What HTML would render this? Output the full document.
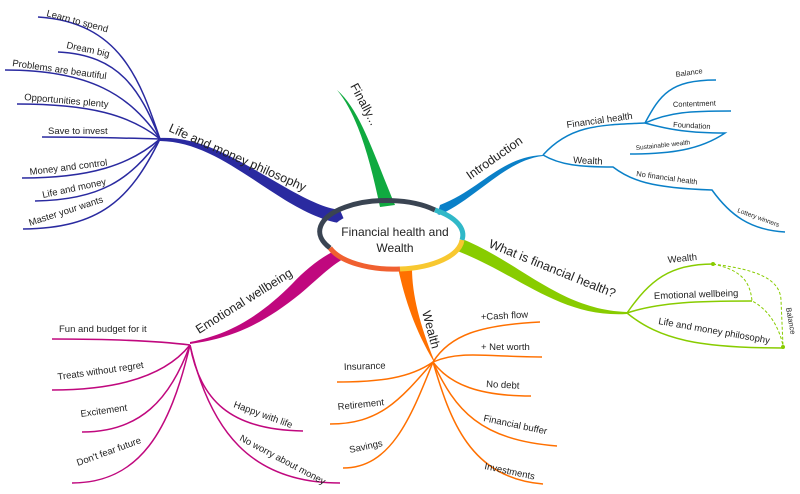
<!DOCTYPE html>
<html><head><meta charset="utf-8"><style>
html,body{margin:0;padding:0;background:#fff;}
svg{display:block;font-family:"Liberation Sans",sans-serif;}
text{fill:#222;}
</style></head><body>
<svg width="800" height="494" viewBox="0 0 800 494">
<!-- main branches -->
<path d="M160,138 C205,136 245,165 290,190 C310,201 325,208 340,210 L346,224 C325,222 305,212 285,200 C240,172 205,142 160,141 Z" fill="#2a2aa0"/>
<path d="M337,90 C360,110 372,150 395,205 L380,207 C370,160 358,115 337,90 Z" fill="#10aa40"/>
<path d="M543,155 C500,157 480,190 440,205 L437,216 C475,200 505,160 543,156 Z" fill="#0a80c8"/>
<path d="M455,250 C520,275 560,318 627,314 L627,312 C560,310 520,262 460,238 Z" fill="#88cc00"/>
<path d="M398,268 C405,300 415,330 434,362 L434,360 C420,325 412,295 412,268 Z" fill="#ff7000"/>
<path d="M190,344 C235,338 265,322 300,294 C318,279 330,266 345,258 L336,250 C320,258 305,270 292,284 C262,314 232,334 190,342 Z" fill="#c0087e"/>

<!-- center ellipse -->
<ellipse cx="395" cy="238" rx="67" ry="31" fill="#fff"/>
<path d="M330,248 A67,31 0 0 1 435,210" fill="none" stroke="#3a4452" stroke-width="5"/>
<path d="M435,210 A67,31 0 0 1 462,240" fill="none" stroke="#30b8c8" stroke-width="5"/>
<path d="M462,240 A67,31 0 0 1 400,269" fill="none" stroke="#f8c830" stroke-width="5"/>
<path d="M400,269 A67,31 0 0 1 330,248" fill="none" stroke="#f06030" stroke-width="5"/>
<text x="395" y="236" font-size="12" text-anchor="middle">Financial health and</text>
<text x="395" y="252" font-size="12" text-anchor="middle">Wealth</text>

<!-- Life and money philosophy leaves -->
<g fill="none" stroke="#2a2aa0" stroke-width="1.5">
<path d="M160,139 C140,80 120,22 38,17"/>
<path d="M160,139 C140,90 120,55 58,52"/>
<path d="M160,139 C130,95 90,70 5,70"/>
<path d="M160,139 C130,115 90,104 17,104"/>
<path d="M160,139 C120,138 90,137 42,137"/>
<path d="M160,139 C130,165 90,178 22,178"/>
<path d="M160,139 C130,180 100,200 35,201"/>
<path d="M160,139 C130,200 100,228 23,229"/>
</g>
<g font-size="9.5">
<text transform="translate(46,16) rotate(15)">Learn to spend</text>
<text transform="translate(66,48) rotate(12)">Dream big</text>
<text transform="translate(12,66) rotate(8)">Problems are beautiful</text>
<text transform="translate(24,100) rotate(5)">Opportunities plenty</text>
<text transform="translate(48,134)">Save to invest</text>
<text transform="translate(30,175) rotate(-7)">Money and control</text>
<text transform="translate(43,198) rotate(-12)">Life and money</text>
<text transform="translate(30,226) rotate(-18)">Master your wants</text>
</g>
<text transform="translate(168,131) rotate(24)" font-size="12.5">Life and money philosophy</text>
<text transform="translate(350,86) rotate(62)" font-size="12.5">Finally...</text>

<!-- Introduction -->
<g fill="none" stroke="#0a80c8" stroke-width="1.5">
<path d="M543,155 C570,125 600,125 645,123"/>
<path d="M645,123 C660,95 670,80 716,80"/>
<path d="M645,123 C670,112 690,111 731,111"/>
<path d="M645,123 C670,130 690,133 725,133 C700,150 670,154 630,154"/>
<path d="M543,155 C560,165 580,167 613,167 C630,180 650,188 712,190 C730,215 750,230 785,232"/>
</g>
<text transform="translate(470,180) rotate(-35)" font-size="12.5">Introduction</text>
<text transform="translate(567,128) rotate(-8)" font-size="9.5">Financial health</text>
<text transform="translate(676,77) rotate(-8)" font-size="7.5">Balance</text>
<text transform="translate(673,107) rotate(-2)" font-size="7.5">Contentment</text>
<text transform="translate(673,127) rotate(3)" font-size="7.5">Foundation</text>
<text transform="translate(636,150) rotate(-6)" font-size="6.5">Sustainable wealth</text>
<text transform="translate(573,163) rotate(3)" font-size="9.5">Wealth</text>
<text transform="translate(636,176) rotate(8)" font-size="7.5">No financial health</text>
<text transform="translate(737,212) rotate(20)" font-size="6.5">Lottery winners</text>

<!-- What is financial health -->
<g fill="none" stroke="#88cc00" stroke-width="1.5">
<path d="M627,313 C650,280 670,264 713,264"/>
<path d="M627,313 C660,302 700,301 752,301"/>
<path d="M627,313 C660,340 700,348 783,348"/>
</g>
<g fill="none" stroke="#88cc00" stroke-width="1" stroke-dasharray="3,2">
<path d="M713,264 C760,270 780,280 781,300 L783,346"/>
<path d="M713,264 C740,270 750,280 752,301 C770,310 780,330 783,346"/>
</g>
<circle cx="713" cy="264" r="2" fill="#88cc00"/>
<circle cx="783" cy="347" r="2" fill="#88cc00"/>
<text transform="translate(488,247) rotate(22)" font-size="12.5">What is financial health?</text>
<text transform="translate(668,263) rotate(-6)" font-size="9.5">Wealth</text>
<text transform="translate(654,299) rotate(-2)" font-size="9.5">Emotional wellbeing</text>
<text transform="translate(658,324) rotate(10)" font-size="9.5">Life and money philosophy</text>
<text transform="translate(786,308) rotate(80)" font-size="7.5">Balance</text>

<!-- Wealth -->
<g fill="none" stroke="#ff7000" stroke-width="1.5">
<path d="M433,362 C450,335 480,325 540,322"/>
<path d="M433,362 C460,350 490,357 542,357"/>
<path d="M433,362 C450,385 480,396 531,396"/>
<path d="M433,362 C455,410 480,440 557,446"/>
<path d="M433,362 C450,420 470,478 543,484"/>
<path d="M433,362 C410,378 380,382 337,382"/>
<path d="M433,362 C400,400 380,424 330,424"/>
<path d="M433,362 C410,420 390,468 343,468"/>
</g>
<text transform="translate(422,312) rotate(75)" font-size="12.5">Wealth</text>
<g font-size="9.5">
<text transform="translate(481,320) rotate(-3)">+Cash flow</text>
<text transform="translate(481,350)">+ Net worth</text>
<text transform="translate(486,387) rotate(3)">No debt</text>
<text transform="translate(483,421) rotate(12)">Financial buffer</text>
<text transform="translate(484,469) rotate(12)">Investments</text>
<text transform="translate(344,370) rotate(-2)">Insurance</text>
<text transform="translate(338,410) rotate(-6)">Retirement</text>
<text transform="translate(350,453) rotate(-12)">Savings</text>
</g>

<!-- Emotional wellbeing -->
<g fill="none" stroke="#c0087e" stroke-width="1.5">
<path d="M190,345 C150,340 100,339 52,339"/>
<path d="M190,345 C170,370 130,390 52,390"/>
<path d="M190,345 C170,400 140,432 82,432"/>
<path d="M190,345 C170,430 140,483 72,483"/>
<path d="M190,345 C200,400 230,430 303,431"/>
<path d="M190,345 C210,430 250,483 340,483"/>
</g>
<text transform="translate(199,334) rotate(-32)" font-size="12.5">Emotional wellbeing</text>
<g font-size="9.5">
<text transform="translate(59,332)">Fun and budget for it</text>
<text transform="translate(58,380) rotate(-8)">Treats without regret</text>
<text transform="translate(81,417) rotate(-8)">Excitement</text>
<text transform="translate(78,466) rotate(-20)">Don't fear future</text>
<text transform="translate(233,407) rotate(20)">Happy with life</text>
<text transform="translate(239,440) rotate(28)">No worry about money</text>
</g>
</svg>
</body></html>
